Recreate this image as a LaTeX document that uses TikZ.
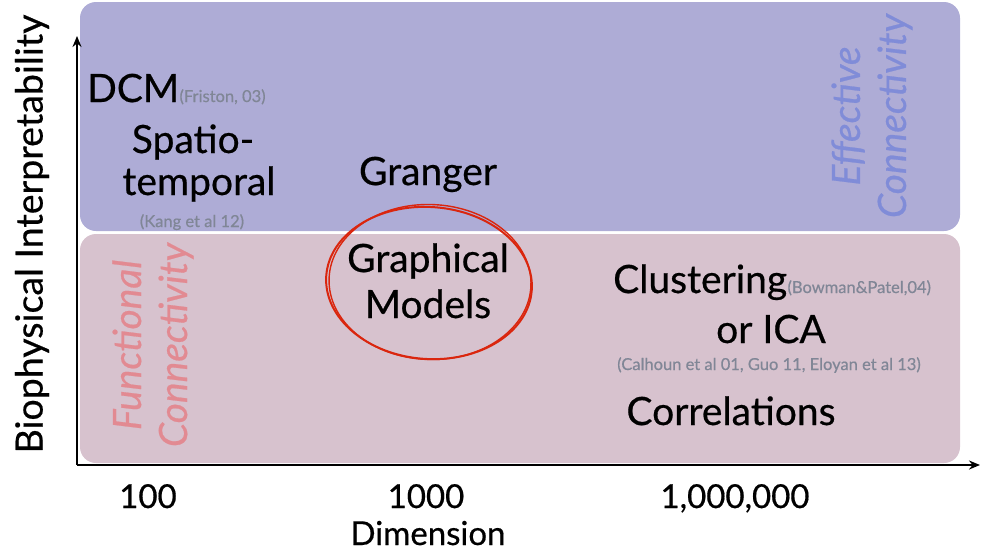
\documentclass[tikz,border=0pt]{standalone}
\usepackage{fontspec}
\setmainfont{Lato}
\newfontfamily\heavyfont{Lato}[FakeBold=0.5]
\usetikzlibrary{arrows.meta}
\definecolor{effbg}{RGB}{174,172,214}
\definecolor{funbg}{RGB}{215,194,206}
\definecolor{efftxt}{RGB}{128,140,216}
\definecolor{funtxt}{RGB}{226,138,146}
\definecolor{citec}{RGB}{128,134,150}
\definecolor{circ}{RGB}{218,38,14}
\tikzset{
  region/.style={rounded corners=16pt, draw=none},
  big/.style={font=\heavyfont\fontsize{39}{46}\selectfont, text=black, inner sep=0pt, anchor=base},
  cite/.style={font=\heavyfont\fontsize{16.5}{19}\selectfont, text=citec, inner sep=0pt, anchor=base},
  axlab/.style={font=\heavyfont\fontsize{33}{38}\selectfont, text=black, inner sep=0pt, anchor=base},
  sidelab/.style={font=\heavyfont\fontsize{39}{46}\selectfont\itshape, inner sep=0pt, align=center, rotate=90},
  axis/.style={line width=2.6pt, -{Stealth[length=11pt,width=9pt]}},
  sketch/.style={draw=circ, line width=2pt}
}
\begin{document}
\begin{tikzpicture}[x=1pt,y=-1pt]
\useasboundingbox (0,0) rectangle (988,558);
% regions
\fill[region, effbg] (80,2) rectangle (960,231);
\fill[region, funbg] (80,234) rectangle (960,463);
% axes
\coordinate (o) at (77,465);
\coordinate (ytop) at (77,36);
\coordinate (xend) at (980,465);
\draw[axis] (o) -- (ytop);
\draw[axis] (o) -- (xend);
% axis titles
\node[font=\heavyfont\fontsize{37.5}{42}\selectfont, rotate=90, inner sep=0pt] (ytitle) at (32,234) {Biophysical Interpretability};
\node[axlab] (t100) at (148,508) {100};
\node[axlab] (t1000) at (426,508) {1000};
\node[axlab] (t1m) at (735,508) {1,000,000};
\node[axlab] (dimt) at (428,545) {Dimension};
% side labels
\node[sidelab, text=efftxt] (eff) at (872,116) {Effective\\Connectivity};
\node[sidelab, text=funtxt] (fun) at (153,345) {Functional\\Connectivity};
% method labels
\node[big, anchor=base west] (dcm) at (87,102) {DCM};
\node[cite, anchor=base west] (fris) at (dcm.base east) {(Friston, 03)};
\node[big] (spat) at (193,153) {Spatio-};
\node[big] (temp) at (199,195) {temporal};
\node[cite] (kang) at (192,227) {(Kang et al 12)};
\node[big] (gran) at (428,185) {Granger};
\node[big] (graph) at (428,272) {Graphical};
\node[big] (mods) at (428,318) {Models};
\node[big, anchor=base west] (clus) at (613,293) {Clustering};
\node[cite, anchor=base west] (bowm) at (clus.base east) {(Bowman\&Patel,04)};
\node[big] (ica) at (771,343) {or ICA};
\node[cite] (calh) at (769,370) {(Calhoun et al 01, Guo 11, Eloyan et al 13)};
\node[big] (corr) at (731,425) {Correlations};
% hand-drawn circle
\draw[sketch] (429,283) ellipse [x radius=103, y radius=76, rotate=-4];
\draw[sketch, line width=1.4pt] (430,282) ellipse [x radius=101, y radius=77.5, rotate=-2];
\end{tikzpicture}
\end{document}
